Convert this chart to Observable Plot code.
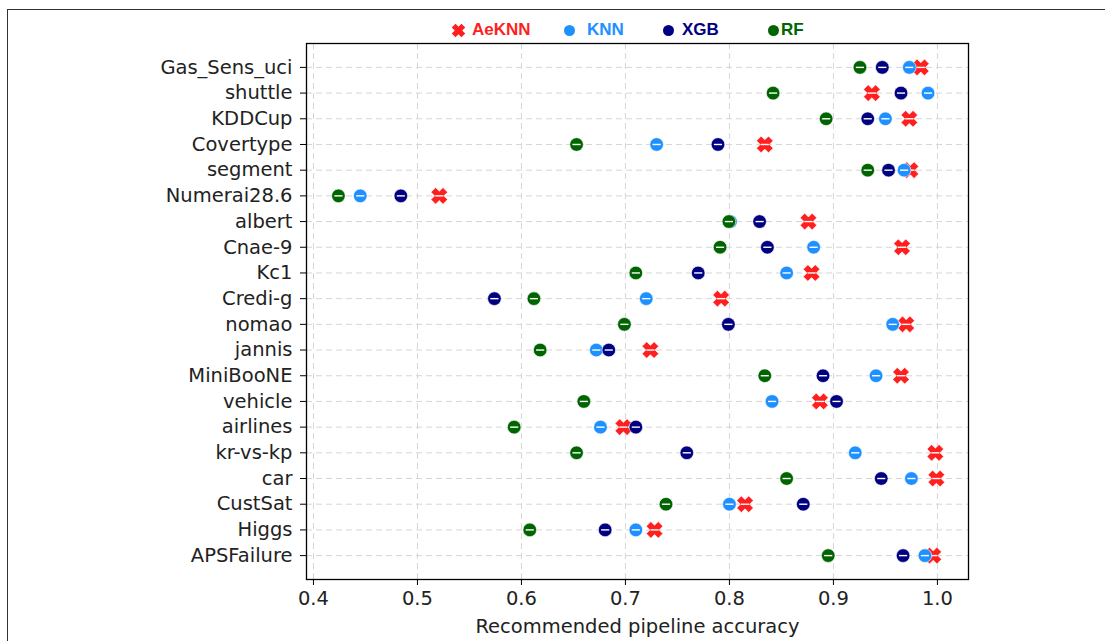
<!DOCTYPE html>
<html>
<head>
<meta charset="utf-8">
<script src="https://cdn.jsdelivr.net/npm/d3@7"></script>
<script src="https://cdn.jsdelivr.net/npm/@observablehq/plot@0.6"></script>
<style>
  html, body { margin: 0; padding: 0; background: #fff; overflow: hidden; }
  #wrap { position: relative; width: 1105px; height: 641px; overflow: hidden; }
  #frame { position: absolute; left: 7px; top: 9px; width: 1200px; height: 1000px; border: 1.5px solid #333; box-sizing: border-box; }
  #legend { position: absolute; top: 19px; left: 0; width: 1105px; height: 22px; font-family: "Liberation Sans", Arial, sans-serif; font-weight: bold; font-size: 17px; }
  .li { position: absolute; top: 0; display: flex; align-items: center; height: 22px; }
  .li svg { margin-right: 6px; }
  #chart { position: absolute; left: 0; top: 0; }
</style>
</head>
<body>
<div id="wrap">
  <div id="frame"></div>
  <div id="chart"></div>
  <div id="legend"></div>
</div>
<script>
const datasets = ["Gas_Sens_uci","shuttle","KDDCup","Covertype","segment","Numerai28.6","albert","Cnae-9","Kc1","Credi-g","nomao","jannis","MiniBooNE","vehicle","airlines","kr-vs-kp","car","CustSat","Higgs","APSFailure"];
const aeknn = [0.984,0.937,0.973,0.834,0.974,0.521,0.876,0.966,0.879,0.792,0.970,0.724,0.965,0.887,0.698,0.998,0.999,0.815,0.728,0.996];
const knn   = [0.973,0.991,0.950,0.730,0.968,0.445,0.801,0.881,0.855,0.720,0.957,0.672,0.941,0.841,0.676,0.921,0.975,0.800,0.710,0.988];
const xgb   = [0.947,0.965,0.933,0.789,0.953,0.484,0.829,0.8365,0.770,0.574,0.799,0.684,0.890,0.903,0.710,0.759,0.946,0.871,0.6805,0.967];
const rf    = [0.9255,0.842,0.893,0.653,0.933,0.424,0.7995,0.791,0.710,0.612,0.699,0.618,0.834,0.660,0.593,0.653,0.855,0.739,0.608,0.895];
const methods = ["AeKNN","KNN","XGB","RF"];
const colors = ["#ff1f1f","#1e90ff","#000080","#006400"];
const xTicks = [0.4,0.5,0.6,0.7,0.8,0.9,1.0];

const series = [aeknn, knn, xgb, rf];
const rows = [];
methods.forEach((m, k) => datasets.forEach((d, i) => rows.push({method: m, dataset: d, acc: series[k][i]})));

// matplotlib-like filled "X" marker
const symbolX = {
  draw(context, size) {
    const r = Math.sqrt(size / Math.PI) * 1.25;
    const w = 1.15;
    const pts = [[-w,-3],[w,-3],[w,-w],[3,-w],[3,w],[w,w],[w,3],[-w,3],[-w,w],[-3,w],[-3,-w],[-w,-w]]
      .map(([a,b]) => { const x = a/3*r, y = b/3*r; const c = Math.SQRT1_2; return [(x - y)*c, (x + y)*c]; });
    context.moveTo(pts[0][0], pts[0][1]);
    for (let i = 1; i < pts.length; i++) context.lineTo(pts[i][0], pts[i][1]);
    context.closePath();
  }
};
const symbolDash = {
  draw(context, size) {
    const r = Math.sqrt(size / Math.PI);
    context.moveTo(-r * 0.6, 0);
    context.lineTo(r * 0.6, 0);
  }
};

const marks = [
  Plot.ruleX(xTicks, {x: d => d, stroke: "#d6d6d6", strokeDasharray: "6,4", strokeWidth: 1}),
  Plot.ruleY(datasets, {y: d => d, stroke: "#d6d6d6", strokeDasharray: "6,4", strokeWidth: 1}),
];
methods.forEach((m, k) => {
  const data = rows.filter(r => r.method === m);
  marks.push(Plot.dot(data, {x: "acc", y: "dataset", r: 6.8, fill: colors[k], stroke: "white", strokeWidth: 0.6, symbol: k === 0 ? symbolX : "circle"}));
  marks.push(Plot.dot(data, {x: "acc", y: "dataset", r: 6.8, stroke: "white", strokeWidth: 1.4, fill: "none", symbol: symbolDash}));
});
marks.push(
  Plot.frame({stroke: "#000", strokeWidth: 1.3}),
  Plot.axisX(xTicks, {tickSize: 6, tickPadding: 6, tickFormat: d3.format(".1f"), fontSize: 19.5, label: null, fill: "#222"}),
  Plot.axisY({tickSize: 6, tickPadding: 8, fontSize: 19.5, label: null, fill: "#222"}),
  Plot.text(["Recommended pipeline accuracy"], {frameAnchor: "bottom", dy: 53, fontSize: 19.5, fill: "#222"})
);

const chart = Plot.plot({
  width: 1105,
  height: 641,
  marginLeft: 306,
  marginRight: 137,
  marginTop: 43,
  marginBottom: 62,
  style: {fontFamily: "'DejaVu Sans', sans-serif", background: "transparent", overflow: "visible"},
  x: {domain: [0.3933, 1.0299], label: null},
  y: {type: "point", domain: datasets, padding: 0.93, round: false, label: null},
  marks
});
document.getElementById("chart").appendChild(chart);

// legend
const legendPos = [450, 561, 660, 765];
const lg = document.getElementById("legend");
methods.forEach((m, k) => {
  const el = document.createElement("div");
  el.className = "li";
  el.style.left = legendPos[k] + "px";
  el.style.color = colors[k];
  const sw = Plot.plot({
    width: 16, height: 16, margin: 0, axis: null,
    x: {domain: [0, 1]}, y: {domain: [0, 1]},
    style: {background: "transparent", overflow: "visible"},
    marks: [Plot.dot([0.5], {x: d => d, y: d => d, r: 5.5, fill: colors[k], symbol: k === 0 ? symbolX : "circle"})]
  });
  el.appendChild(sw);
  if (k === 1) sw.style.marginRight = "10px";
  if (k === 3) sw.style.marginRight = "0px";
  const t = document.createElement("span");
  t.textContent = m;
  el.appendChild(t);
  lg.appendChild(el);
});
</script>
</body>
</html>
